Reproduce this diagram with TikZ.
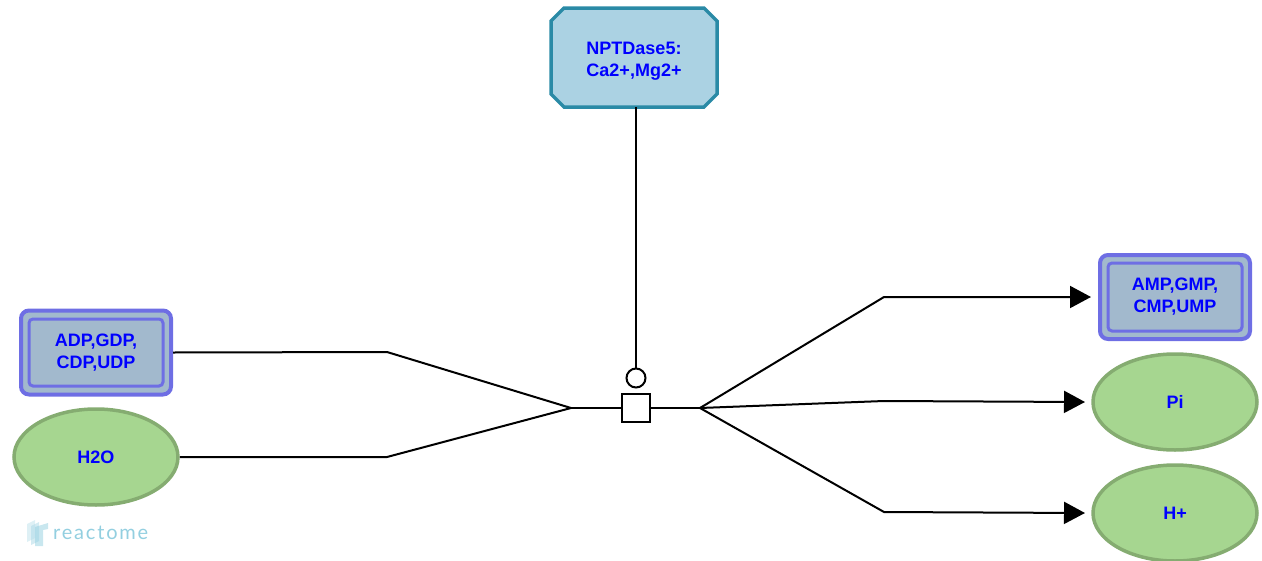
\documentclass[tikz,border=0pt]{standalone}
\usepackage{fontspec}
\setmainfont{Liberation Sans}
\newfontfamily\logofont[LetterSpace=9]{Lato}
\usetikzlibrary{arrows.meta,shapes.geometric}
\definecolor{txtblue}{HTML}{0000FF}
\definecolor{cxfill}{HTML}{A2B9CD}
\definecolor{cxline}{HTML}{6E6EE4}
\definecolor{elfill}{HTML}{A6D690}
\definecolor{elline}{HTML}{85AC71}
\definecolor{pfill}{HTML}{ABD2E3}
\definecolor{pline}{HTML}{2A8AA6}
\definecolor{logoc}{HTML}{93CFE0}
\tikzset{
  lbl/.style={font=\fontsize{18}{22}\selectfont\bfseries, text=txtblue, align=center},
  ent/.style={ellipse, draw=elline, fill=elfill, line width=3.5pt, minimum width=164pt, minimum height=96pt, lbl},
  cxbox/.style={rectangle, rounded corners=8pt, draw=cxline, fill=cxfill, line width=4pt, minimum width=150pt, minimum height=84pt, lbl},
  conn/.style={line width=2pt, black},
  arr/.style={conn, -{Triangle[length=21pt,width=22pt]}}
}
\begin{document}
\begin{tikzpicture}[x=1pt,y=-1pt]
\useasboundingbox (0,0) rectangle (1262,560);
% protein (octagon)
\draw[pline, fill=pfill, line width=3.5pt]
  (564,8) -- (704,8) -- (717,21) -- (717,94) -- (704,107) -- (564,107) -- (551,94) -- (551,21) -- cycle;
\node[lbl, inner sep=0pt] (npt) at (634,61) {NPTDase5:\\Ca2+,Mg2+};
\coordinate (nptb) at (636,107);
% inputs
\node[cxbox] (adp) at (96,352.5) {ADP,GDP,\\CDP,UDP};
\draw[cxline, line width=3pt, rounded corners=4pt] (29,319) rectangle (163,386);
\node[ent] (h2o) at (96,457) {H2O};
% outputs
\node[cxbox] (amp) at (1175,297) {AMP,GMP,\\CMP,UMP};
\draw[cxline, line width=3pt, rounded corners=4pt] (1108,263) rectangle (1242,331);
\node[ent] (pi) at (1175,402) {Pi};
\node[ent] (hp) at (1175,513) {H+};
% reaction
\node[draw, line width=2pt, fill=white, minimum size=28pt, inner sep=0pt] (rx) at (636,408) {};
\node[draw, circle, line width=2pt, fill=white, minimum size=19pt, inner sep=0pt] (cat) at (636,378) {};
\coordinate (jin) at (571,408);
\coordinate (jout) at (700,408);
\draw[conn] (adp.east) -- (387,352) -- (jin);
\draw[conn] (h2o.east) -- (387,457) -- (jin);
\draw[conn] (jin) -- (rx.west);
\draw[conn] (rx.east) -- (jout);
\draw[arr] (jout) -- (884,297) -- (1091,297);
\draw[arr] (jout) -- (884,401) -- (1085,402);
\draw[arr] (jout) -- (884,512) -- (1085,513);
\draw[conn] (nptb) -- (cat.north);
% logo
\begin{scope}[opacity=0.5]
\fill[logoc!60] (27,524) -- (35,520) -- (35,538) -- (27,542) -- cycle;
\fill[logoc!80] (31,526) -- (39,522) -- (39,541) -- (31,545) -- cycle;
\fill[logoc] (35,527) -- (48,523) -- (48,529) -- (43,530) -- (43,546) -- (35,546) -- cycle;
\end{scope}
\node[font=\logofont\fontsize{20}{20}\selectfont, text=logoc, anchor=base west, inner sep=0pt] (logo) at (53,539) {reactome};
\end{tikzpicture}
\end{document}
